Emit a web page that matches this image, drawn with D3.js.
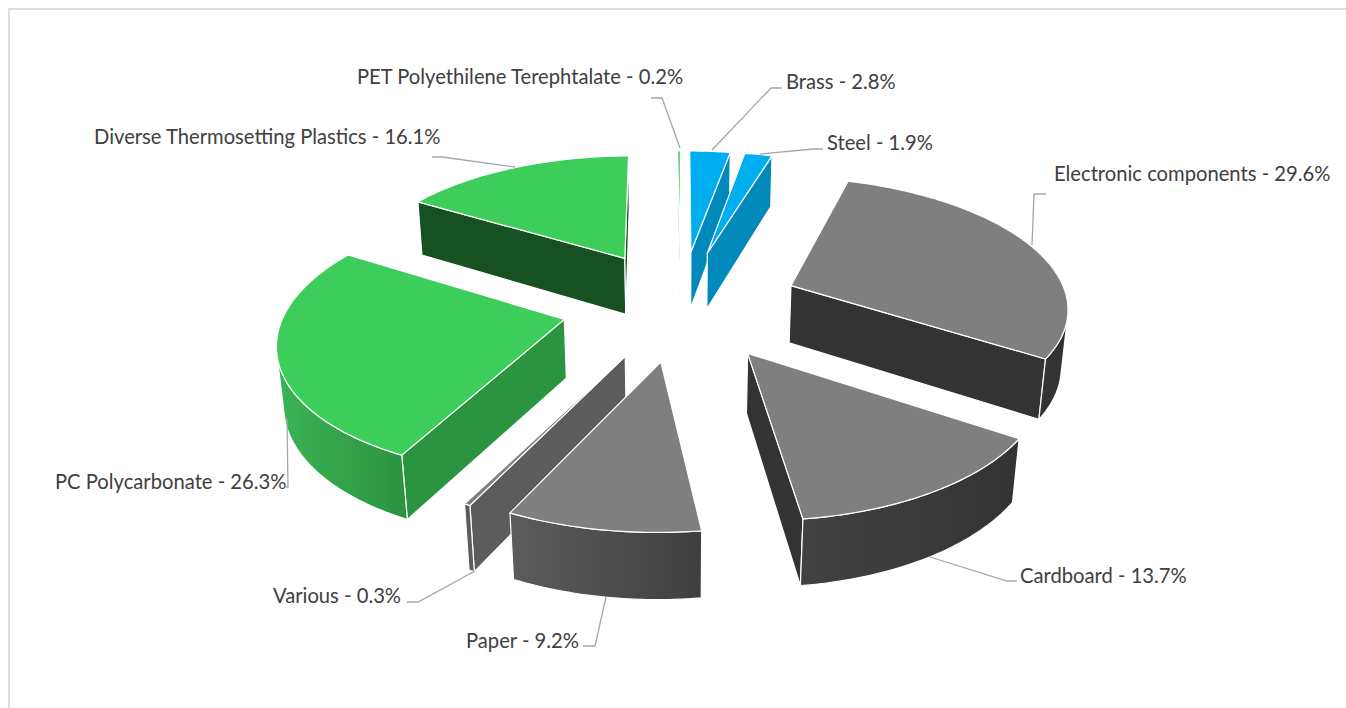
<!DOCTYPE html>
<html>
<head>
<meta charset="utf-8">
<script src="https://cdn.jsdelivr.net/npm/d3@7"></script>
<style>
  body { margin: 0; background: #fff; }
  text { font-family: Lato, "Open Sans", sans-serif; fill: #404040; }
</style>
</head>
<body>
<div id="chart"></div>
<script>
let categories = ["Brass", "Steel", "Electronic components", "Cardboard", "Paper", "Various",
                  "PC Polycarbonate", "Diverse Thermosetting Plastics", "PET Polyethilene Terephtalate"]
let shares = [2.8, 1.9, 29.6, 13.7, 9.2, 0.3, 26.3, 16.1, 0.2]

// colours per slice: top face, cut faces, rim gradient left -> right
let topColors = ["#00aeef", "#00aeef", "#7f7f7f", "#7f7f7f", "#7f7f7f", "#7f7f7f", "#3dcd5a", "#3dcd5a", "#3dcd5a"]
let cutColors = ["#0089ba", "#0089ba", "#333333", "#333333", "#333333", "#5c5c5c", "#2b9440", "#175021", "#175021"]
let rimLeft = ["#0089ba", "#0089ba", "#333333", "#424242", "#5c5c5c", "#5c5c5c", "#3ab454", "#175021", "#175021"]
let rimRight = ["#0089ba", "#0089ba", "#333333", "#333333", "#3f3f3f", "#5c5c5c", "#2c9240", "#175021", "#175021"]

// label layout: text start + baseline, then the leader polyline
let labelLayout = [
  {x: 786, y: 89, leader: [[712, 150], [771, 88], [782, 88]]},
  {x: 827, y: 150, leader: [[760, 154], [813, 149], [823, 149]]},
  {x: 1054, y: 181, leader: [[1032, 245], [1034, 194], [1046, 194]]},
  {x: 1020, y: 583, leader: [[930, 557], [1007, 581], [1017, 581]]},
  {x: 466, y: 648, leader: [[606, 597], [595, 646], [583, 646]]},
  {x: 273, y: 603, leader: [[475, 571], [418, 602], [407, 602]]},
  {x: 55, y: 489, leader: [[287, 418], [288, 487], [286, 487]]},
  {x: 94, y: 144, leader: [[515, 167], [442, 157], [432, 157]]},
  {x: 357, y: 84, leader: [[680, 148], [662, 98], [651, 98]]}
]

let width = 1346
let height = 708

// camera for the tilted pie
let cx = 681
let cy = 304
let tilt = Math.asin(0.463)
let camDist = 6.35
let focal = 1762
let explode = 0.43
let thickness = 0.24

function project(X, Y, Z) {
  let depth = camDist - (Y * Math.cos(tilt) + Z * Math.sin(tilt))
  return [cx + focal * X / depth, cy + focal * (Y * Math.sin(tilt) - Z * Math.cos(tilt)) / depth]
}

function area(pts) {
  let s = 0
  pts.forEach(function(p, i) {
    let q = pts[(i + 1) % pts.length]
    s += p[0] * q[1] - q[0] * p[1]
  })
  return s / 2
}

const svg = d3.select("#chart").append("svg")
  .attr("width", width)
  .attr("height", height)
  .style("display", "block")

const defs = svg.append("defs")

// outer frame of the chart
svg.append("path")
  .attr("d", "M9," + height + "V9H" + width)
  .attr("fill", "none")
  .attr("stroke", "#dedede")
  .attr("stroke-width", 2)

let pie = d3.pie().sort(null).startAngle(0).endAngle(2 * Math.PI)
let line = d3.line()
let slices = pie(shares)

slices.forEach(function(d) {
  let mid = (d.startAngle + d.endAngle) / 2
  let ox = explode * Math.sin(mid)
  let oy = -explode * Math.cos(mid)
  d.oy = oy
  d.point = function(r, a, z) {
    return project(ox + r * Math.sin(a), oy - r * Math.cos(a), z)
  }
})

// far slices first so the near ones paint over them
let order = slices.slice().sort(function(a, b) { return d3.ascending(a.oy, b.oy) })

function polygon(g, pts, fill) {
  g.append("path")
    .attr("d", line(pts) + "Z")
    .attr("fill", fill)
    .attr("stroke", "#fff")
    .attr("stroke-width", 1.2)
    .attr("stroke-linejoin", "round")
}

order.forEach(function(d) {
  let g = svg.append("g").attr("class", "slice")
  let steps = Math.max(2, Math.ceil((d.endAngle - d.startAngle) / 0.02))
  let angles = d3.range(steps + 1).map(function(i) {
    return d.startAngle + (d.endAngle - d.startAngle) * i / steps
  })
  let topArc = angles.map(function(a) { return d.point(1, a, 0) })
  let lowArc = angles.map(function(a) { return d.point(1, a, -thickness) })
  let apex = d.point(0, 0, 0)
  let apexLow = d.point(0, 0, -thickness)

  // cut faces, only the ones turned to the camera
  let startFace = [topArc[0], apex, apexLow, lowArc[0]]
  let endFace = [apex, topArc[steps], lowArc[steps], apexLow]
  if (area(startFace) > 0) polygon(g, startFace, cutColors[d.index])
  if (area(endFace) > 0) polygon(g, endFace, cutColors[d.index])

  // outer rim, visible segments only
  let visible = d3.range(steps).filter(function(i) {
    return area([topArc[i + 1], topArc[i], lowArc[i], lowArc[i + 1]]) > 0
  })
  if (visible.length) {
    let first = visible[0]
    let last = visible[visible.length - 1] + 1
    let rim = topArc.slice(first, last + 1).concat(lowArc.slice(first, last + 1).reverse())
    let id = "rim" + d.index
    let grad = defs.append("linearGradient")
      .attr("id", id)
      .attr("gradientUnits", "userSpaceOnUse")
      .attr("x1", d3.min(rim, function(p) { return p[0] }))
      .attr("x2", d3.max(rim, function(p) { return p[0] }))
      .attr("y1", 0)
      .attr("y2", 0)
    grad.append("stop").attr("offset", 0).attr("stop-color", rimLeft[d.index])
    grad.append("stop").attr("offset", 1).attr("stop-color", rimRight[d.index])
    polygon(g, rim, "url(#" + id + ")")
  }

  polygon(g, [apex].concat(topArc), topColors[d.index])
})

// leaders and labels
categories.forEach(function(name, i) {
  svg.append("path")
    .attr("d", line(labelLayout[i].leader))
    .attr("fill", "none")
    .attr("stroke", "#a6a6a6")
    .attr("stroke-width", 1.3)
  svg.append("text")
    .attr("x", labelLayout[i].x)
    .attr("y", labelLayout[i].y)
    .attr("font-size", 20.2)
    .text(name + " - " + shares[i].toFixed(1) + "%")
})
</script>
</body>
</html>
